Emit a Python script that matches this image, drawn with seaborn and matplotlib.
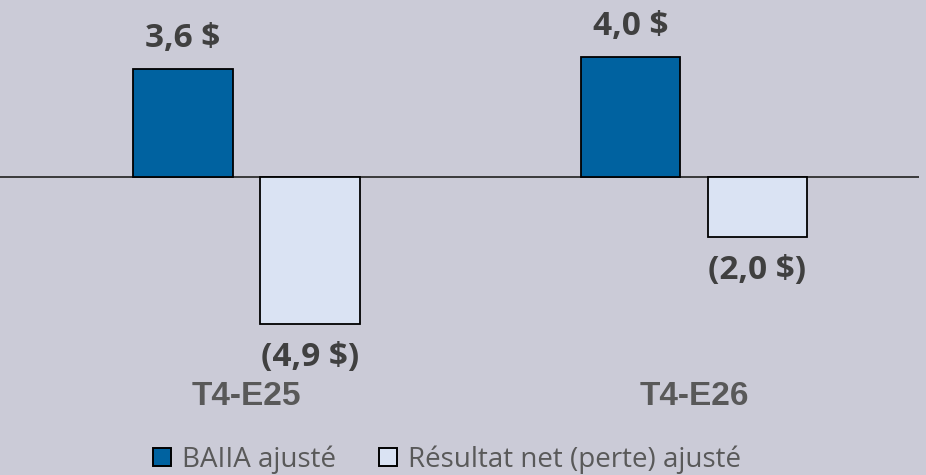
import pandas as pd
from matplotlib import pyplot as plt
from matplotlib.patches import Patch
import seaborn as sns

# Chart data
periods = ["T4-E25", "T4-E26"]
series = ["BAIIA ajusté", "Résultat net (perte) ajusté"]
baiia = [3.6, 4.0]
net_result = [-4.9, -2.0]

bg = "#CBCBD7"
colors = ["#0062A0", "#DAE3F3"]

df = pd.DataFrame({
    "period": periods * 2,
    "series": [series[0]] * 2 + [series[1]] * 2,
    "value": baiia + net_result,
})

sns.set_style("white")

fig = plt.figure(figsize=(9.26, 4.75), dpi=100, facecolor=bg)
ax = fig.add_axes([0, 105 / 475, 919 / 926, 370 / 475])
ax.set_facecolor(bg)

sns.barplot(data=df, x="period", y="value", hue="series", hue_order=series,
            palette=colors, saturation=1, width=0.5676, gap=0.213,
            edgecolor="black", linewidth=1.3, legend=False, ax=ax, zorder=2)

ax.axhline(0, color="#3A3A3A", linewidth=1.4, zorder=1)

ax.set_xlim(-0.5508, 1.5028)
ax.set_ylim(-6.433, 5.9)

# Value labels on the bars
def fmt(v):
    s = f"{abs(v):.1f} $".replace(".", ",")
    return s if v >= 0 else f"({s})"

for cont, vals in zip(ax.containers, [baiia, net_result]):
    pad = 10 if vals[0] >= 0 else 12
    ax.bar_label(cont, labels=[fmt(v) for v in vals], padding=pad,
                 fontsize=24, fontweight="bold", color="#404040",
                 family="Open Sans")

# Axis styling
sns.despine(ax=ax, left=True, bottom=True)
ax.set_xlabel("")
ax.set_ylabel("")
ax.set_yticks([])
ax.tick_params(axis="x", length=0, pad=8)
for lbl in ax.get_xticklabels():
    lbl.set_fontfamily("Liberation Sans")
    lbl.set_fontweight("bold")
    lbl.set_fontsize(24)
    lbl.set_color("#595959")

# Legend
handles = [Patch(facecolor=c, edgecolor="black", linewidth=1.4) for c in colors]
fig.legend(handles, series, loc="center", bbox_to_anchor=(447 / 926, 1 - 460 / 475),
           ncol=2, frameon=False, borderpad=0, handlelength=0.65, handleheight=0.62,
           handletextpad=0.4, columnspacing=1.55,
           prop={"family": "Open Sans", "size": 20}, labelcolor="#595959")

plt.savefig("out.png", dpi=100, facecolor=bg)
